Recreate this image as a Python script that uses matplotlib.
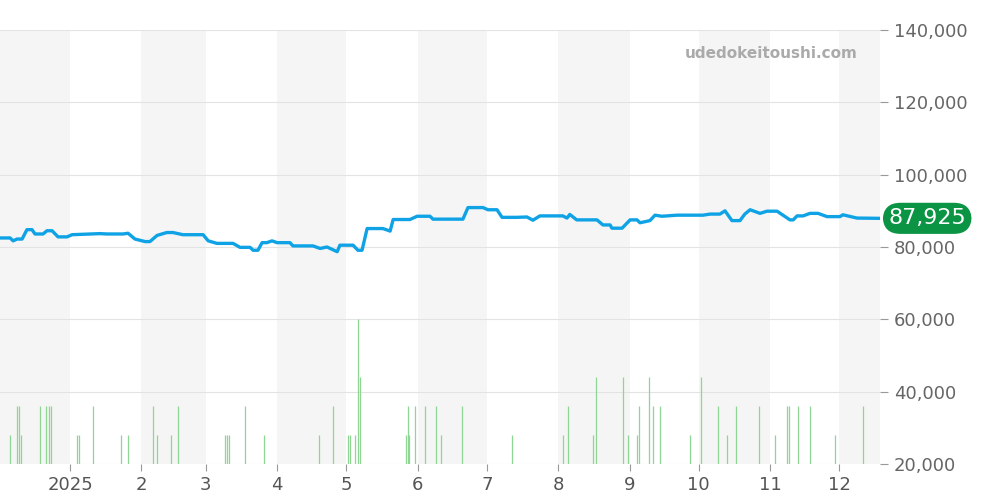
import matplotlib.pyplot as plt
import numpy as np

# days from 2025-01-01, price in yen
price_days = [-30.4, -26, -24.7, -23, -20.8, -18.7, -16.5, -15.2, -11.7, -10, -7.8, -5.2, -1.3, 0.9, 13, 16,
              23, 25.2, 28.2, 32.6, 34.7, 37.8, 42, 44.7, 49, 57.8, 60, 63.8, 70.8, 73.8, 78.2, 79.5, 81.6,
              83.4, 85.5, 87.7, 89.9, 95.5, 96.8, 105.5, 108.6, 111.6, 116, 117.2, 122.9, 125, 126.8, 129,
              135.9, 139, 140.3, 147.6, 150.7, 156.3, 157.6, 170.6, 172.8, 179.3, 181.5, 185.4, 187.6, 194,
              198.4, 201, 204, 214, 215.8, 217, 220, 228.8, 231.4, 234.5, 235.3, 239.7, 243.2, 246.2, 247.5,
              251.8, 254, 257, 263.6, 274.9, 277.9, 282.2, 284.4, 287.4, 290.9, 293, 295.3, 299.6, 302.6,
              307, 312.6, 314, 315.7, 318.3, 321.3, 324.8, 328.7, 334.3, 335.6, 341.7, 351.7]
price_vals = [82.5, 82.5, 81.7, 82.2, 82.2, 84.8, 84.8, 83.6, 83.6, 84.5, 84.5, 82.8, 82.8, 83.4, 83.7, 83.6,
              83.6, 83.8, 82.2, 81.5, 81.5, 83.2, 84, 84, 83.4, 83.4, 81.7, 81, 81, 79.9, 79.9, 79.1, 79.1,
              81.2, 81.2, 81.7, 81.2, 81.2, 80.3, 80.3, 79.6, 80, 78.7, 80.5, 80.5, 79.1, 79.1, 85.1,
              85.1, 84.4, 87.6, 87.6, 88.5, 88.5, 87.7, 87.7, 90.9, 90.9, 90.3, 90.3, 88.2, 88.2,
              88.3, 87.4, 88.6, 88.6, 88, 89, 87.5, 87.5, 86.1, 86.1, 85.2, 85.2, 87.5, 87.5, 86.7,
              87.3, 88.8, 88.5, 88.8, 88.8, 89.1, 89.1, 90, 87.3, 87.3, 89.1, 90.3, 89.3, 89.9,
              89.9, 87.5, 87.5, 88.6, 88.6, 89.3, 89.3, 88.4, 88.4, 88.9, 88, 87.925]
price_vals = [v * 1000 for v in price_vals]

vol_days = [-26.1, -23, -22.1, -21.3, -13, -10.4, -9.1, -8.2, 3, 3.9, 10, 22.1, 25.2, 36, 37.8, 43.9, 46.9,
            67.3, 68.2, 69, 76, 84.2, 108.1, 114.2, 120.7, 121.6, 123.8, 125, 125.9, 145.9, 146.8, 147.2,
            149.8, 154.1, 158.9, 161.1, 170.2, 191.9, 214.1, 216.2, 227.1, 228.4, 240.1, 242.3, 246.2,
            247.1, 251.4, 253.1, 256.2, 269.2, 274, 281.4, 285.3, 289.2, 299.2, 306.1, 311.3, 312.2,
            316.1, 321.3, 332.2, 344.3]
vol_vals = [28, 36, 36, 28, 36, 36, 36, 36, 28, 28, 36, 28, 28, 36, 28, 28, 36,
            28, 28, 28, 36, 28, 28, 36, 28, 28, 28, 60, 44, 28, 36, 28,
            36, 36, 36, 28, 36, 28, 28, 36, 28, 44, 44, 28, 28,
            36, 44, 36, 36, 28, 44, 36, 28, 36, 36, 28, 36, 36,
            36, 36, 28, 36]
vol_vals = [v * 1000 for v in vol_vals]

month_starts = [-31, 0, 31, 59, 90, 120, 151, 181, 212, 243, 273, 304, 334]
month_labels = ['', '2025', '2', '3', '4', '5', '6', '7', '8', '9', '10', '11', '12']

fig = plt.figure(figsize=(10, 5), dpi=100)
ax = fig.add_axes([0.0, 0.072, 0.88, 0.868])
xmin, xmax = -30.4, 351.7
ax.set_xlim(xmin, xmax)
ax.set_ylim(20000, 140000)

# alternating month shading
edges = month_starts + [365]
for i in range(len(month_starts)):
    if i % 2 == 0:
        ax.axvspan(edges[i], edges[i + 1], color='#f5f5f5', lw=0, zorder=0)

for y in range(20000, 140001, 20000):
    ax.axhline(y, color='#e3e3e3', lw=0.8, zorder=1)

ax.vlines(vol_days, 20000, vol_vals, color='#8fd694', lw=0.9, zorder=2)
ax.plot(price_days, price_vals, color='#0fa3e6', lw=2.4, zorder=3, solid_joinstyle='round')

for s in ax.spines.values():
    s.set_visible(False)
ax.yaxis.tick_right()
ax.set_yticks(range(20000, 140001, 20000))
ax.set_yticklabels([f'{v:,}' for v in range(20000, 140001, 20000)])
ax.set_xticks(month_starts[1:])
ax.set_xticklabels(month_labels[1:])
ax.tick_params(axis='y', colors='#999999', labelcolor='#666666', labelsize=13, length=6, pad=4)
ax.tick_params(axis='x', colors='#999999', labelcolor='#555555', labelsize=13, length=5)

ax.text(0.975, 0.945, 'udedokeitoushi.com', transform=ax.transAxes, ha='right', va='center',
        color='#aaaaaa', fontsize=11, fontweight='bold')

ax.annotate(f'{price_vals[-1]:,.0f}', xy=(1.0, price_vals[-1]), xycoords=('axes fraction', 'data'),
            xytext=(6, 0), textcoords='offset points', ha='left', va='center', color='white',
            fontsize=16, annotation_clip=False,
            bbox=dict(boxstyle='round,pad=0.25,rounding_size=0.8', fc='#0a9444', ec='none'))

fig.savefig('out.png')
